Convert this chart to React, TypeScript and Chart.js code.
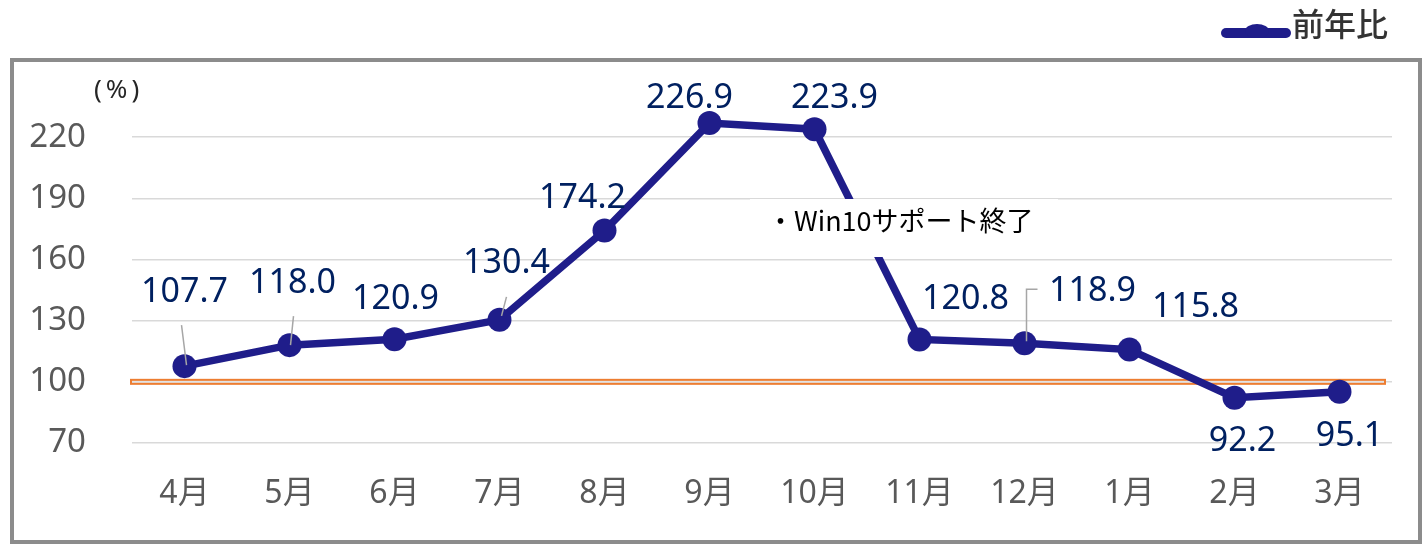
import React, { useEffect, useRef } from "react";
import { Chart, registerables } from "chart.js";

Chart.register(...registerables);

// ---- data ----
const categories = ["4月", "5月", "6月", "7月", "8月", "9月", "10月", "11月", "12月", "1月", "2月", "3月"];
const yoyValues = [107.7, 118.0, 120.9, 130.4, 174.2, 226.9, 223.9, 120.8, 118.9, 115.8, 92.2, 95.1];
const yTickValues = [70, 100, 130, 160, 190, 220];
const seriesName = "前年比";
const unitLabel = "(%)";
const noteText = "・Win10サポート終了";
const baselineValue = 100;

// ---- styling / placement (not data) ----
const LINE_COLOR = "#1F1D8A";
const LABEL_COLOR = "#002060";
const AXIS_COLOR = "#595959";
const GRID_COLOR = "#D9D9D9";
const FONT = "'Noto Sans', 'Noto Sans CJK JP', sans-serif";
const CJK_FONT = "'Noto Sans CJK JP', 'Noto Sans', sans-serif";
// label centre offsets relative to each point
const labelOffsets: [number, number][] = [
  [0, -76], [3, -64], [1, -42], [7, -59], [-22, -35], [-20, -27],
  [20, -33], [46, -42], [68, -54], [66, -45], [8, 41], [10, 42],
];

const decorPlugin = {
  id: "decor",
  beforeDatasetsDraw(chart: any) {
    const { ctx, chartArea, scales } = chart;
    const y = scales.y.getPixelForValue(baselineValue);
    ctx.save();
    ctx.fillStyle = "#ED7D31";
    ctx.fillRect(chartArea.left - 2, y - 3, chartArea.right - chartArea.left - 4, 6);
    ctx.fillStyle = "#E3E3E3";
    ctx.fillRect(chartArea.left, y - 1, chartArea.right - chartArea.left - 8, 2);
    ctx.restore();
  },
  afterDatasetsDraw(chart: any) {
    const { ctx } = chart;
    const meta = chart.getDatasetMeta(0);
    const pts = meta.data.map((p: any) => ({ x: p.x, y: p.y }));
    ctx.save();

    // leader lines
    ctx.strokeStyle = "#A6A6A6";
    ctx.lineWidth = 1.5;
    const seg = (i: number, path: [number, number][]) => {
      ctx.beginPath();
      path.forEach(([dx, dy], k) => {
        const px = pts[i].x + dx, py = pts[i].y + dy;
        if (k === 0) ctx.moveTo(px, py); else ctx.lineTo(px, py);
      });
      ctx.stroke();
    };
    seg(0, [[-3, -41], [2, -1]]);
    seg(1, [[4, -29], [1, 0]]);
    seg(3, [[7, -23], [2, -4]]);
    seg(8, [[13, -54], [2, -54], [2, -2]]);

    // note box
    ctx.fillStyle = "#FFFFFF";
    ctx.fillRect(750, 199, 308, 58);
    ctx.fillStyle = "#000000";
    ctx.font = `27px ${CJK_FONT}`;
    ctx.textBaseline = "middle";
    ctx.textAlign = "left";
    ctx.fillText(noteText, 767, 221);

    // data labels
    ctx.fillStyle = LABEL_COLOR;
    ctx.font = `34px ${FONT}`;
    ctx.textAlign = "center";
    ctx.textBaseline = "alphabetic";
    yoyValues.forEach((v, i) => {
      const [dx, dy] = labelOffsets[i];
      ctx.fillText(v.toFixed(1), pts[i].x + dx, pts[i].y + dy + 12);
    });

    // unit label
    ctx.fillStyle = "#262626";
    ctx.font = `26px ${FONT}`;
    ctx.textAlign = "left";
    ctx.textBaseline = "middle";
    (ctx as any).letterSpacing = "4px";
    ctx.fillText(unitLabel, 94, 91);
    (ctx as any).letterSpacing = "0px";

    // legend
    ctx.strokeStyle = LINE_COLOR;
    ctx.lineWidth = 10;
    ctx.lineCap = "round";
    ctx.beginPath();
    ctx.moveTo(1226, 33);
    ctx.lineTo(1286, 33);
    ctx.stroke();
    ctx.fillStyle = LINE_COLOR;
    ctx.beginPath();
    ctx.ellipse(1257, 31, 12, 7, 0, 0, Math.PI * 2);
    ctx.fill();
    ctx.fillStyle = "#333333";
    ctx.font = `500 32px ${CJK_FONT}`;
    ctx.textBaseline = "middle";
    ctx.fillText(seriesName, 1292, 24);

    // frame
    ctx.strokeStyle = "#8C8C8C";
    ctx.lineWidth = 4;
    ctx.lineCap = "butt";
    ctx.strokeRect(12, 60, 1408, 482);
    ctx.restore();
  },
};

export default function App() {
  const ref = useRef<HTMLCanvasElement | null>(null);
  useEffect(() => {
    if (!ref.current) return;
    const chart = new Chart(ref.current, {
      type: "line",
      data: {
        labels: categories,
        datasets: [
          {
            label: seriesName,
            data: yoyValues,
            borderColor: LINE_COLOR,
            backgroundColor: LINE_COLOR,
            borderWidth: 7.5,
            pointRadius: 12,
            pointBorderWidth: 0,
            pointBackgroundColor: LINE_COLOR,
            tension: 0,
            clip: false as any,
          },
        ],
      },
      options: {
        responsive: false,
        animation: false,
        devicePixelRatio: 1,
        layout: { padding: { top: 76, right: 33, left: 0, bottom: 0 } },
        plugins: { legend: { display: false }, tooltip: { enabled: false } },
        scales: {
          x: {
            offset: true,
            grid: { display: false, drawTicks: false },
            border: { display: false },
            ticks: { color: AXIS_COLOR, font: { family: FONT, size: 32 }, padding: 32 },
            afterFit: (s: any) => { s.height = 101; },
          },
          y: {
            min: 70,
            max: 250,
            afterBuildTicks: (s: any) => {
              s.ticks = yTickValues.map((v) => ({ value: v }));
            },
            grid: { color: GRID_COLOR, lineWidth: 1.5, drawTicks: false },
            border: { display: false },
            ticks: { color: AXIS_COLOR, font: { family: FONT, size: 33 }, padding: 46 },
            afterFit: (s: any) => { s.width = 132; },
          },
        },
      },
      plugins: [decorPlugin],
    });
    return () => chart.destroy();
  }, []);
  return (
    <div style={{ position: "absolute", left: 0, top: 0, width: 1425, height: 544, background: "#fff" }}>
      <canvas ref={ref} width={1425} height={544} style={{ display: "block" }} />
    </div>
  );
}
